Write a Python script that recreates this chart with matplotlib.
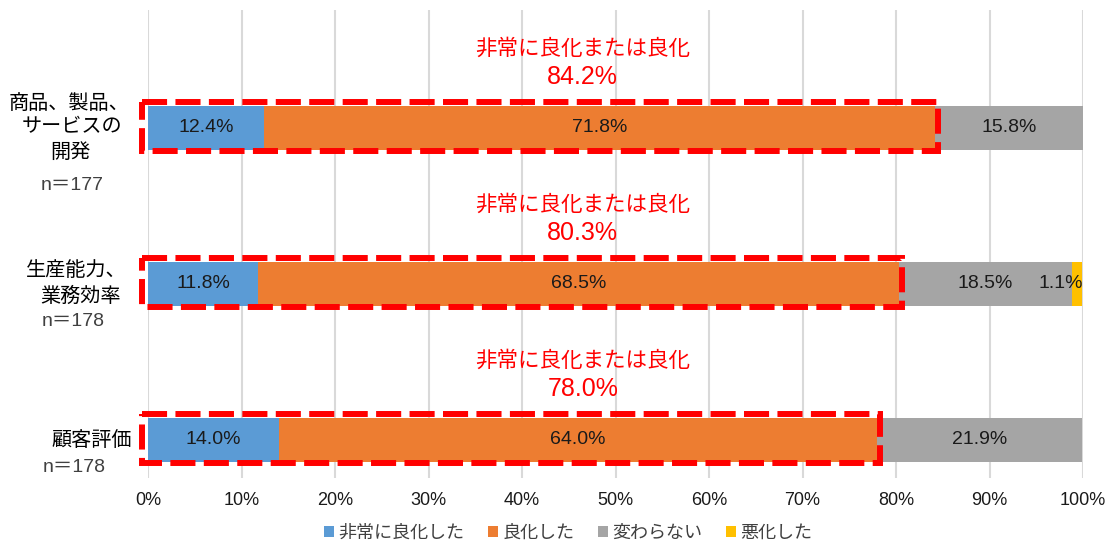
import numpy as np
import matplotlib
matplotlib.use("Agg")
import matplotlib.pyplot as plt
from matplotlib.patches import Rectangle

plt.rcParams['font.family'] = ['Noto Sans CJK JP', 'DejaVu Sans']
NUM_FONT = ['Liberation Sans', 'Noto Sans CJK JP']

# data
categories = ["商品、製品、\nサービスの\n開発", "生産能力、\n業務効率", "顧客評価"]
sample_sizes = ["n＝177", "n＝178", "n＝178"]
series_names = ["非常に良化した", "良化した", "変わらない", "悪化した"]
very_improved = [12.4, 11.8, 14.0]
improved = [71.8, 68.5, 64.0]
unchanged = [15.8, 18.5, 21.9]
worsened = [0.0, 1.1, 0.0]
combined = [84.2, 80.3, 78.0]
colors = ["#5B9BD5", "#ED7D31", "#A5A5A5", "#FFC000"]

W, H = 1112, 542
fig = plt.figure(figsize=(W / 100, H / 100), dpi=100)
ax = fig.add_axes([148 / W, (H - 478) / H, (1083 - 148) / W, (478 - 10) / H])

px = 1 / 156.0  # data units per pixel along y
ypos = np.arange(len(categories))
bar_h = 44 * px
series = [very_improved, improved, unchanged, worsened]

left = np.zeros(len(categories))
for vals, c, name in zip(series, colors, series_names):
    vals = np.array(vals)
    ax.barh(ypos, vals, left=left, height=bar_h, color=c, label=name, zorder=2)
    for i, v in enumerate(vals):
        if v <= 0:
            continue
        if v < 3:
            ax.text(left[i] + v + 0.1, ypos[i], f"{v:.1f}%", ha="right", va="center",
                    fontsize=14, color="#1a1a1a", family=NUM_FONT, zorder=4)
        else:
            ax.text(left[i] + v / 2, ypos[i], f"{v:.1f}%", ha="center", va="center",
                    fontsize=14, color="#1a1a1a", family=NUM_FONT, zorder=4)
    left = left + vals

# red dashed boxes and annotations
for i, tot in enumerate(combined):
    rect = Rectangle((-0.65, ypos[i] - 26 * px), tot + 0.95, 49 * px, fill=False,
                     edgecolor="#FF0000", linewidth=4.3, linestyle=(0, (4.2, 1.4)),
                     clip_on=False, zorder=5)
    ax.add_patch(rect)
    ax.text(46.5, ypos[i] - 79 * px, "非常に良化または良化", ha="center", va="center",
            fontsize=15.5, color="#FF0000")
    ax.text(46.5, ypos[i] - 51 * px, f"{tot:.1f}%", ha="center", va="center",
            fontsize=18, color="#FF0000", family=NUM_FONT)

# category labels (positions in pixels -> data)
def xd(p):
    return (p - 148) / 9.35

label_lines = [
    [("商品、製品、", 69, -25), ("サービスの", 72, -1), ("開発", 70, 24)],
    [("生産能力、", 76, -13), ("業務効率", 81, 12)],
    [("顧客評価", 92, 1)],
]
n_offsets = [(72, 57), (73, 38), (74, 27)]
for i, lines in enumerate(label_lines):
    for txt, xc, dy in lines:
        ax.text(xd(xc), ypos[i] + dy * px, txt, ha="center", va="center",
                fontsize=14.5, color="#000000", clip_on=False)
    xc, dy = n_offsets[i]
    ax.text(xd(xc), ypos[i] + dy * px, sample_sizes[i], ha="center", va="center",
            fontsize=14, color="#404040", family=NUM_FONT, clip_on=False)

ax.set_xlim(0, 100)
ax.set_ylim(2 + 38 * px, -118 * px)
ax.set_xticks(np.arange(0, 101, 10))
ax.set_xticklabels([f"{t}%" for t in range(0, 101, 10)], fontsize=13, color="#1a1a1a",
                   family=NUM_FONT)
ax.set_yticks([])
ax.tick_params(axis="x", length=0, pad=10)
ax.grid(axis="x", color="#D9D9D9", linewidth=1.5, zorder=0)
for s in ax.spines.values():
    s.set_visible(False)

leg = fig.legend(loc="center", bbox_to_anchor=(568 / W, (H - 533) / H), ncol=4,
                 frameon=False, fontsize=13, handlelength=0.55, handleheight=0.55,
                 handletextpad=0.25, columnspacing=1.3, borderaxespad=0)
for t in leg.get_texts():
    t.set_color("#404040")

fig.savefig("out.png", dpi=100)
